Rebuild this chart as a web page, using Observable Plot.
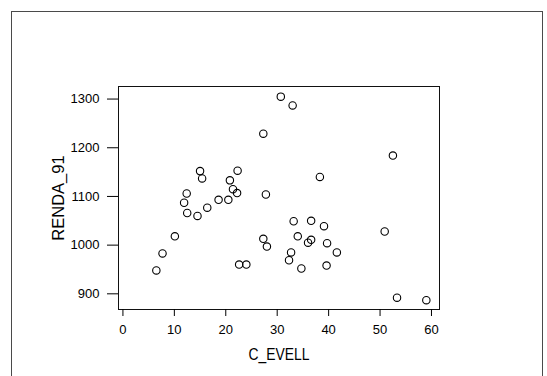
<!DOCTYPE html>
<html>
<head>
<meta charset="utf-8">
<script src="https://cdn.jsdelivr.net/npm/d3@7"></script>
<script src="https://cdn.jsdelivr.net/npm/@observablehq/plot@0.6"></script>
<style>
  html, body { margin: 0; padding: 0; background: #fff; }
  #wrap { position: relative; width: 547px; height: 376px; overflow: hidden; }
  #border { position: absolute; left: 11px; top: 11px; width: 532px; height: 420px; border: 1px solid #4a4a4a; box-sizing: border-box; }
  #chart { position: absolute; left: 0; top: 0; }
  #chart svg g[aria-label$="tick label"] { font-size: 13px; }
  #chart svg g[aria-label$="tick label"] text { font-size: 13px; }
  #chart svg g[aria-label$="axis label"] text { font-size: 16.5px; }
</style>
</head>
<body>
<div id="wrap"><div id="border"></div><div id="chart"></div></div>
<script>
const xLabel = "C_EVELL";
const yLabel = "RENDA_91";
const xTicks = [0, 10, 20, 30, 40, 50, 60];
const yTicks = [900, 1000, 1100, 1200, 1300];
const cEvell = [6.5, 7.7, 10.1, 12.4, 11.9, 12.5, 14.5, 15.0, 15.4, 16.4, 18.6, 20.5, 20.8, 21.4, 22.2, 22.3, 22.6, 24.0, 27.3, 27.8, 27.3, 28.0, 30.7, 33.0, 38.3, 52.5, 33.2, 36.6, 39.1, 34.0, 36.6, 36.0, 39.7, 32.7, 41.6, 32.3, 34.7, 39.6, 50.9, 53.3, 59.0];
const renda91 = [948, 983, 1018, 1106, 1087, 1066, 1060, 1152, 1137, 1077, 1093, 1093, 1133, 1115, 1107, 1153, 960, 960, 1229, 1104, 1013, 997, 1305, 1287, 1140, 1184, 1049, 1050, 1039, 1018, 1011, 1005, 1004, 985, 985, 969, 952, 958, 1028, 892, 887];

const data = cEvell.map((x, i) => ({x, y: renda91[i]}));

const chart = Plot.plot({
  width: 547,
  height: 376,
  marginLeft: 118,
  marginRight: 108,
  marginTop: 86,
  marginBottom: 67,
  style: {fontFamily: "'Liberation Sans', Arial, sans-serif", fontSize: "13px", color: "#000", background: "transparent"},
  x: {domain: [-0.86, 61.56]},
  y: {domain: [867.8, 1325.8]},
  marks: [
    Plot.frame({stroke: "#111", strokeWidth: 1}),
    Plot.axisY(yTicks, {anchor: "left", tickSize: 11, tickPadding: 8, tickFormat: d => String(d), label: yLabel, labelAnchor: "center", labelOffset: 66, labelArrow: "none"}),
    Plot.axisX(xTicks, {anchor: "bottom", tickSize: 7, tickPadding: 8, tickFormat: d => String(d), label: xLabel, labelAnchor: "center", labelOffset: 50, labelArrow: "none"}),
    Plot.dot(data, {x: "x", y: "y", r: 3.7, stroke: "#000", strokeWidth: 1.1, fill: "none"})
  ]
});
document.getElementById("chart").appendChild(chart);
d3.select(chart).selectAll("g[aria-label='x-axis label'] text")
  .attr("textLength", 61).attr("lengthAdjust", "spacingAndGlyphs");
</script>
</body>
</html>
